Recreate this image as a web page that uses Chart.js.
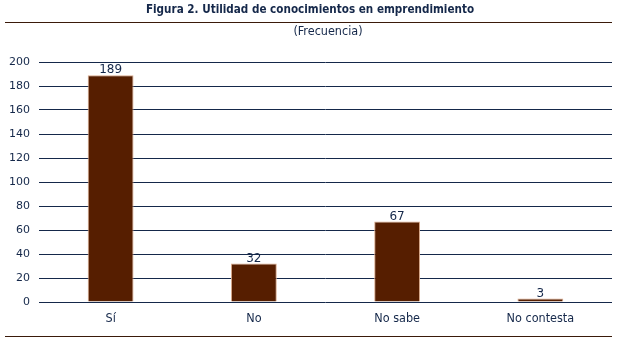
<!DOCTYPE html>
<html>
<head>
<meta charset="utf-8">
<script src="https://cdn.jsdelivr.net/npm/chart.js@4/dist/chart.umd.min.js"></script>
<style>
html,body{margin:0;padding:0;background:#fff}
#wrap{width:617px;height:341px}
</style>
</head>
<body>
<div id="wrap"><canvas id="c"></canvas></div>
<script>
const categories=["Sí","No","No sabe","No contesta"]
const values=[189,32,67,3]
const yTicks=[0,20,40,60,80,100,120,140,160,180,200]

const titleText="Figura 2. Utilidad de conocimientos en emprendimiento"
const subtitleText="(Frecuencia)"

const navy="#15284a"
const brown="#561e00"
const narrow="'DejaVu Sans Condensed', sans-serif"

/* frame: title, rules, subtitle, value labels */
const frame={
id:"frame",
afterDraw(chart){
const ctx=chart.ctx
ctx.save()
ctx.textAlign="center"
ctx.textBaseline="middle"
ctx.fillStyle=navy
ctx.font="bold 11.6px "+narrow
ctx.fillText(titleText,310,10)
ctx.strokeStyle="#3a1a0a"
ctx.lineWidth=1.2
ctx.beginPath()
ctx.moveTo(5,22.5);ctx.lineTo(612,22.5)
ctx.moveTo(5,336.5);ctx.lineTo(612,336.5)
ctx.stroke()
ctx.font="12.5px "+narrow
ctx.fillText(subtitleText,328,32)

let meta=chart.getDatasetMeta(0)
ctx.font="12px 'DejaVu Sans', sans-serif"
ctx.textBaseline="bottom"
meta.data.forEach((bar,i)=>{
ctx.fillText(values[i],bar.x,bar.y+1)
})
ctx.restore()
}
}

new Chart(document.getElementById("c"),{
type:"bar",
data:{
labels:categories,
datasets:[{
data:values,
backgroundColor:brown,
borderColor:"#d9a98a",
borderWidth:{top:1,left:1,right:1,bottom:0},
barPercentage:0.32,
categoryPercentage:1
}]
},
plugins:[frame],
options:{
responsive:true,
maintainAspectRatio:false,
animation:false,
layout:{padding:{top:62,right:5,bottom:14,left:0}},
plugins:{legend:{display:false},tooltip:{enabled:false}},
scales:{
x:{
grid:{display:false},
border:{display:false},
ticks:{color:navy,font:{size:12.5,family:narrow},padding:1}
},
y:{
min:0,max:200,
afterBuildTicks(axis){axis.ticks=yTicks.map(v=>({value:v}))},
grid:{color:navy,lineWidth:1,drawTicks:false},
border:{display:false},
ticks:{color:navy,font:{size:11,family:"'DejaVu Sans', sans-serif"},padding:9}
}
}
}
})
</script>
</body>
</html>
